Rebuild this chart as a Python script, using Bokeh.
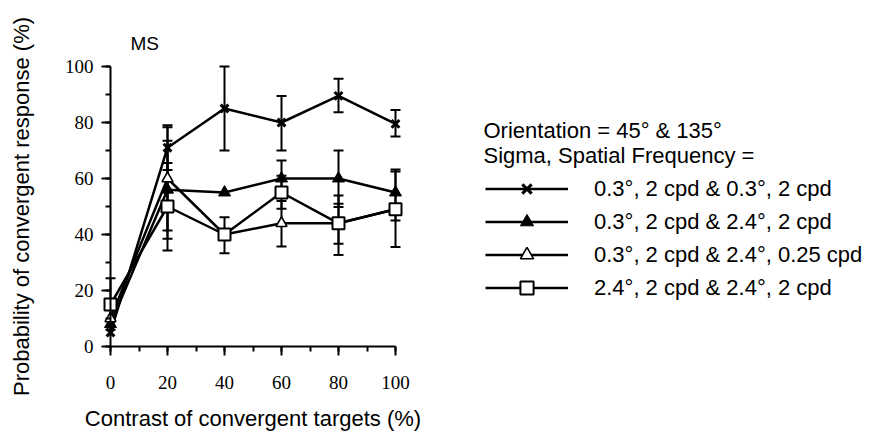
from bokeh.plotting import figure
from bokeh.models import (ColumnDataSource, Whisker, TeeHead, Legend, LegendItem,
                          Label, SingleIntervalTicker, Range1d)
from bokeh.embed import file_html
from bokeh.resources import INLINE

# ---------------- data ----------------
contrast = [0, 20, 40, 60, 80, 100]
series_labels = [
    "0.3°, 2 cpd & 0.3°, 2 cpd",
    "0.3°, 2 cpd & 2.4°, 2 cpd",
    "0.3°, 2 cpd & 2.4°, 0.25 cpd",
    "2.4°, 2 cpd & 2.4°, 2 cpd",
]
s1_y = [5, 71, 85, 80, 89.5, 79.5]
s1_lo = [5, 63, 70, 70, 83.7, 75]
s1_hi = [5, 79, 100, 89.5, 95.6, 84.5]

s2_y = [8, 56, 55, 60, 60, 55]
s2_lo = [8, 38.5, 55, 53.5, 49.8, 45]
s2_hi = [8, 73.5, 55, 66.4, 70, 63.2]

s3_y = [10, 60, 40, 44, 44, 49]
s3_lo = [10, 41.4, 40, 35.7, 32.7, 49]
s3_hi = [10, 78.3, 40, 52, 53.9, 49]

s4_y = [15, 50, 40, 55, 44, 49]
s4_lo = [6, 34.3, 33.3, 49.2, 36.7, 35.5]
s4_hi = [24.4, 65.5, 46.2, 61, 51, 62.5]

axis_bounds = (0, 100)
tick_interval = 20
title_text = "MS"
legend_title_1 = "Orientation = 45° & 135°"
legend_title_2 = "Sigma, Spatial Frequency ="
x_title = "Contrast of convergent targets (%)"
y_title = "Probability of convergent response (%)"

SANS = "Liberation Sans"
SERIF = "Liberation Serif"

W, H = 874, 432
# pixel placement of the data box (layout only)
X0_PX, X100_PX = 110, 395
Y0_PX, Y100_PX = 346, 66
xs_per_px = 100.0 / (X100_PX - X0_PX)
ys_per_px = 100.0 / (Y0_PX - Y100_PX)

p = figure(width=W, height=H,
           x_range=Range1d(-X0_PX * xs_per_px, (W - X0_PX) * xs_per_px),
           y_range=Range1d(-(H - Y0_PX) * ys_per_px, 100 + Y100_PX * ys_per_px),
           output_backend="svg", toolbar_location=None,
           min_border=0, min_border_left=0, min_border_right=0,
           min_border_top=0, min_border_bottom=0)
p.outline_line_color = None
p.grid.visible = False
p.background_fill_color = "white"
p.border_fill_color = "white"

for ax in (p.xaxis[0], p.yaxis[0]):
    ax.ticker = SingleIntervalTicker(interval=tick_interval, num_minor_ticks=2)
    ax.bounds = axis_bounds
    ax.fixed_location = 0
    ax.axis_line_width = 2
    ax.axis_line_color = "black"
    ax.major_tick_line_width = 2
    ax.minor_tick_line_width = 2
    ax.major_tick_line_color = "black"
    ax.minor_tick_line_color = "black"
    ax.major_tick_in = 0
    ax.major_tick_out = 9
    ax.minor_tick_in = 0
    ax.minor_tick_out = 5
    ax.major_label_text_font = SERIF
    ax.major_label_text_font_size = "19px"
    ax.major_label_text_color = "black"
    ax.axis_label_text_font = SANS
    ax.axis_label_text_font_size = "22px"
    ax.axis_label_text_font_style = "normal"
    ax.axis_label_text_color = "black"

p.xaxis[0].axis_label = x_title
p.xaxis[0].major_label_standoff = 20
p.xaxis[0].axis_label_standoff = 14

p.yaxis[0].axis_label = y_title
p.yaxis[0].major_label_standoff = 8
p.yaxis[0].axis_label_standoff = 28

series = [
    (s1_y, s1_lo, s1_hi, dict(marker="x", size=11, line_width=3, line_color="black")),
    (s2_y, s2_lo, s2_hi, dict(marker="triangle", size=12, line_width=1, line_color="black", fill_color="black")),
    (s3_y, s3_lo, s3_hi, dict(marker="triangle", size=11, line_width=1.6, line_color="black", fill_color="white")),
    (s4_y, s4_lo, s4_hi, dict(marker="square", size=12, line_width=2, line_color="black", fill_color="white")),
]

# error bars
for ys, lo, hi, _ in series:
    keep = [i for i in range(len(contrast)) if hi[i] > lo[i]]
    src = ColumnDataSource(dict(x=[contrast[i] for i in keep],
                                lo=[lo[i] for i in keep],
                                hi=[hi[i] for i in keep]))
    w = Whisker(source=src, base="x", lower="lo", upper="hi", dimension="height",
                line_width=2, line_color="black", level="underlay",
                upper_head=TeeHead(size=10, line_width=2, line_color="black"),
                lower_head=TeeHead(size=10, line_width=2, line_color="black"))
    p.add_layout(w)

line_rs = []
for ys, lo, hi, _ in series:
    line_rs.append(p.line(contrast, ys, line_width=2.5, line_color="black"))

items = []
for (ys, lo, hi, kw), lr, lab in zip(series, line_rs, series_labels):
    sr = p.scatter(contrast, ys, **kw)
    items.append(LegendItem(label=lab, renderers=[lr, sr]))

legend = Legend(items=items, location=(485, H - 304), orientation="vertical",
                glyph_width=83, glyph_height=33, label_height=33, spacing=0,
                padding=0, margin=0, label_standoff=26,
                border_line_color=None, background_fill_alpha=0,
                label_text_font=SANS, label_text_font_size="22px",
                label_text_baseline="middle", label_text_color="black")
p.add_layout(legend)

p.add_layout(Label(x=483, y=H - 130, x_units="screen", y_units="screen", text=legend_title_1,
                   text_font=SANS, text_font_size="22px", text_baseline="middle", text_color="black"))
p.add_layout(Label(x=483, y=H - 155, x_units="screen", y_units="screen", text=legend_title_2,
                   text_font=SANS, text_font_size="22px", text_baseline="middle", text_color="black"))
p.add_layout(Label(x=130, y=H - 43, x_units="screen", y_units="screen", text=title_text,
                   text_font=SANS, text_font_size="19px", text_baseline="middle", text_color="black"))

open("out.html", "w").write(file_html(p, INLINE))
